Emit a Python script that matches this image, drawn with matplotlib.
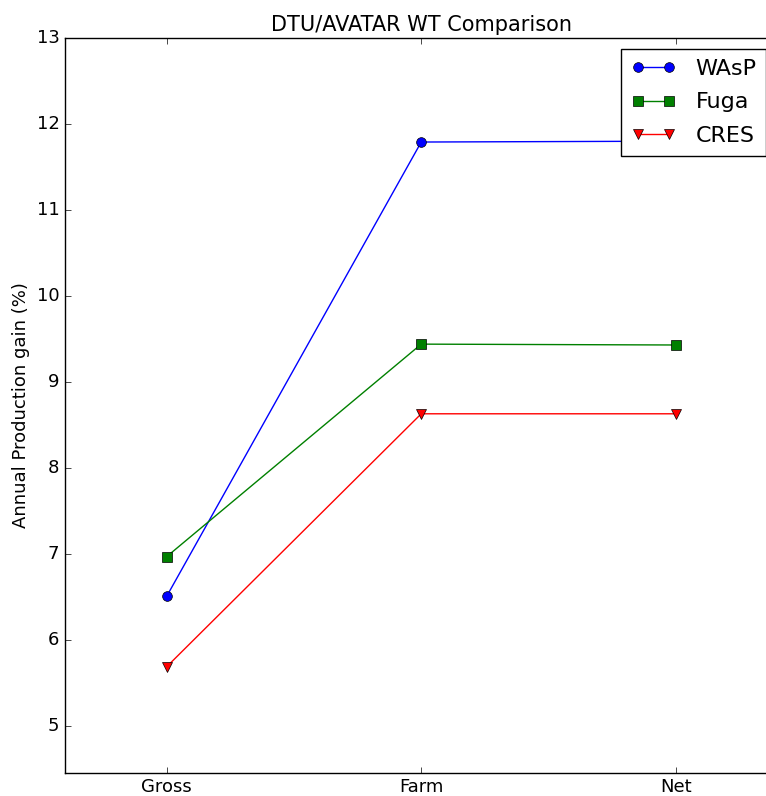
import numpy as np
import matplotlib
matplotlib.use("Agg")
import matplotlib.pyplot as plt

plt.style.use('classic')

### Données
stages = ["Gross", "Farm", "Net"]
wasp = [6.51, 11.79, 11.80]
fuga = [6.97, 9.44, 9.43]
cres = [5.69, 8.63, 8.63]

x = np.arange(len(stages))

fig = plt.figure(figsize=(7.66, 7.96), dpi=100, facecolor='white')
ax = fig.add_axes([0.0849, 0.0292, 0.930, 0.9231])

ax.plot(x, wasp, 'b-o', markersize=7, label="WAsP")
ax.plot(x, fuga, 'g-s', markersize=7, label="Fuga")
ax.plot(x, cres, 'r-v', markersize=7, label="CRES")

ax.set_xlim(-0.4, 2.4)
ax.set_ylim(4.456, 13)
ax.set_xticks(x)
ax.set_xticklabels(stages)
ax.set_yticks(range(5, 14))
ax.tick_params(labelsize=13)
ax.set_ylabel("Annual Production gain (%)", fontsize=13)
ax.set_title("DTU/AVATAR WT Comparison", fontsize=15)

fig.legend(loc='upper left', bbox_to_anchor=(621/766, 1 - 49/796),
           fontsize=16, numpoints=2, borderaxespad=0,
           labelspacing=0.6, borderpad=0.45, handletextpad=0.9)

fig.savefig("out.png", dpi=100, facecolor='white')
